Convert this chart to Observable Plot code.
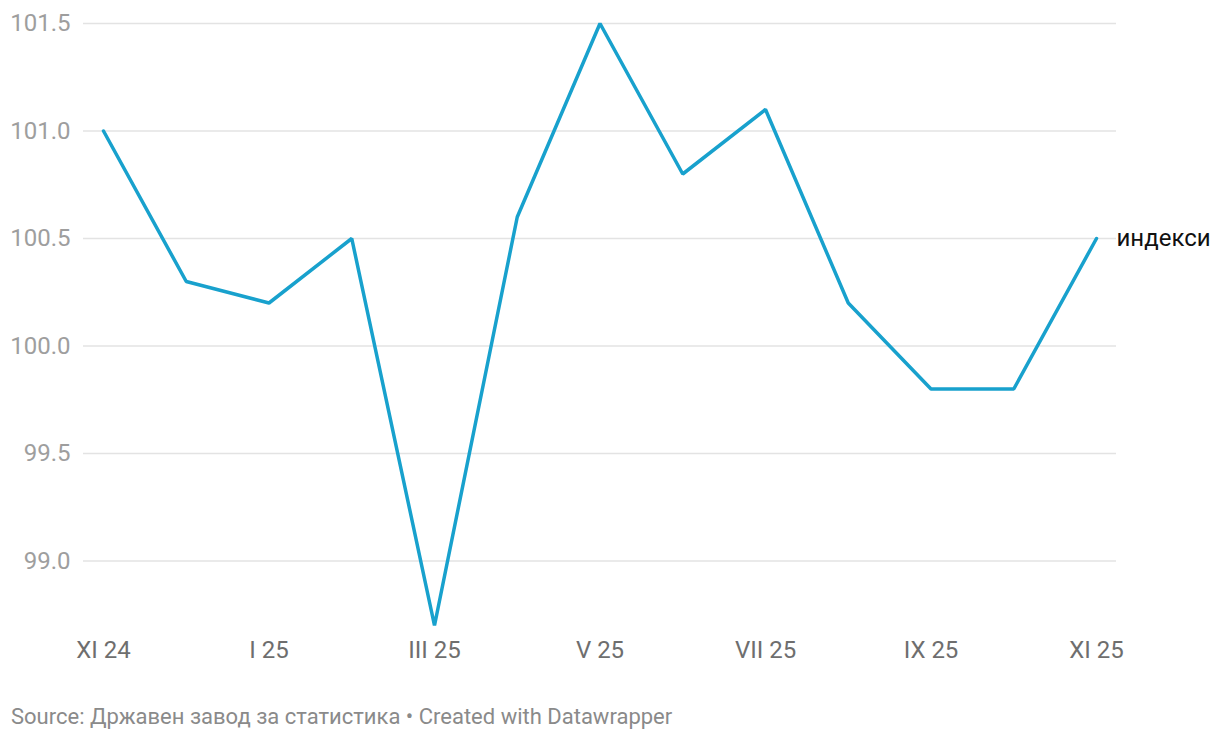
<!DOCTYPE html>
<html>
<head>
<meta charset="utf-8">
<script src="https://cdn.jsdelivr.net/npm/d3@7"></script>
<script src="https://cdn.jsdelivr.net/npm/@observablehq/plot@0.6"></script>
<style>
  body { margin: 0; background: #fff; font-family: Roboto, sans-serif; }
  #caption { font-family: Roboto, sans-serif; font-size: 22px; color: #8a8a8a; margin: 14px 0 0 11px; }
</style>
</head>
<body>
<div id="chart"></div>
<div id="caption">Source: Државен завод за статистика • Created with Datawrapper</div>
<script>
const months = ["XI 24","XII 24","I 25","II 25","III 25","IV 25","V 25","VI 25","VII 25","VIII 25","IX 25","X 25","XI 25"];
const values = [101.0, 100.3, 100.2, 100.5, 98.7, 100.6, 101.5, 100.8, 101.1, 100.2, 99.8, 99.8, 100.5];
const xTicks = ["XI 24","I 25","III 25","V 25","VII 25","IX 25","XI 25"];
const yTicks = [99.0, 99.5, 100.0, 100.5, 101.0, 101.5];
const seriesName = "индекси";

const data = months.map((m, i) => ({month: m, value: values[i]}));

const chart = Plot.plot({
  width: 1220,
  height: 690,
  marginTop: 23,
  marginBottom: 65,
  marginLeft: 103,
  marginRight: 124,
  style: {fontFamily: "Roboto, sans-serif", fontSize: "24px", background: "#fff"},
  x: {type: "point", domain: months, padding: 0, round: false},
  y: {domain: [98.7, 101.5], range: [625, 23]},
  marks: [
    Plot.ruleY(yTicks, {stroke: "#e3e3e3", strokeWidth: 1.5, insetLeft: -20, insetRight: -20}),
    Plot.axisY(yTicks, {tickSize: 0, tickPadding: 33, tickFormat: d => d.toFixed(1), fill: "#9e9e9e", fontSize: 24, label: null}),
    Plot.axisX(xTicks, {tickSize: 0, tickPadding: 15, fill: "#6e6e6e", fontSize: 24, label: null}),
    Plot.lineY(data, {x: "month", y: "value", stroke: "#18a1cd", strokeWidth: 3.5, strokeLinejoin: "miter"}),
    Plot.text(data.slice(-1), {x: "month", y: "value", text: () => seriesName, dx: 20, textAnchor: "start", fill: "#111", fontSize: 24})
  ]
});
document.getElementById("chart").appendChild(chart);
</script>
</body>
</html>
